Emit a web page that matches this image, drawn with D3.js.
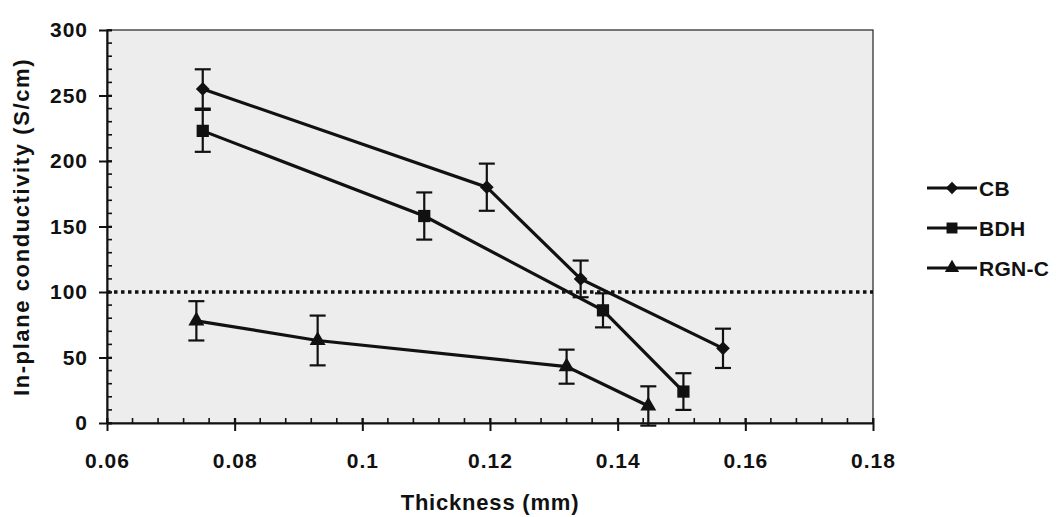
<!DOCTYPE html>
<html>
<head>
<meta charset="utf-8">
<script src="https://cdn.jsdelivr.net/npm/d3@7"></script>
<style>
  body { margin: 0; background: #fff; }
  text { font-family: "Liberation Sans", Arial, sans-serif; font-weight: bold; fill: #111; }
</style>
</head>
<body>
<div id="chart"></div>
<script>
// series: thickness (mm), conductivity (S/cm), error
var cbX = [0.075, 0.1195, 0.1342, 0.1565],
    cbY = [255, 180, 110, 57],
    cbE = [15, 18, 14, 15];
var bdhX = [0.075, 0.1097, 0.1377, 0.1503],
    bdhY = [223, 158, 86, 24],
    bdhE = [16, 18, 13, 14];
var rgnX = [0.074, 0.093, 0.132, 0.1448],
    rgnY = [78, 63, 43, 13],
    rgnE = [15, 19, 13, 15];
var seriesNames = ["CB", "BDH", "RGN-C"];
var xTicks = [0.06, 0.08, 0.1, 0.12, 0.14, 0.16, 0.18],
    xTickLabels = ["0.06", "0.08", "0.1", "0.12", "0.14", "0.16", "0.18"];
var yTicks = [0, 50, 100, 150, 200, 250, 300];
var refLine = 100;

var width = 1057, height = 517,
    margin = {top: 30, right: 184, bottom: 94, left: 107};
var w = width - margin.left - margin.right,
    h = height - margin.top - margin.bottom;

var svg = d3.select("#chart").append("svg")
  .attr("width", width).attr("height", height);

var x = d3.scaleLinear().domain([0.06, 0.18]).range([0, w]);
var y = d3.scaleLinear().domain([0, 300]).range([h, 0]);

var g = svg.append("g")
  .attr("transform", "translate(" + margin.left + "," + margin.top + ")");

// plot area
g.append("rect")
  .attr("width", w).attr("height", h)
  .style("fill", "#ededed")
  .style("stroke", "#222").style("stroke-width", 1.2);

// minor ticks (inside)
var xMinor = d3.range(0.06, 0.1801, 0.004);
g.selectAll(".xminor").data(xMinor).enter().append("line")
  .attr("x1", function(d){ return x(d); }).attr("x2", function(d){ return x(d); })
  .attr("y1", h).attr("y2", h - 5)
  .style("stroke", "#111").style("stroke-width", 1.6);
var yMinor = d3.range(0, 301, 10);
g.selectAll(".yminor").data(yMinor).enter().append("line")
  .attr("y1", function(d){ return y(d); }).attr("y2", function(d){ return y(d); })
  .attr("x1", 0).attr("x2", 5)
  .style("stroke", "#111").style("stroke-width", 1.6);

// axes
var xAxis = d3.axisBottom(x).tickValues(xTicks)
  .tickFormat(function(d, i){ return xTickLabels[i]; })
  .tickSizeInner(8).tickSizeOuter(0).tickPadding(22);
var gx = g.append("g").attr("transform", "translate(0," + h + ")").call(xAxis);
var yAxis = d3.axisLeft(y).tickValues(yTicks).tickSizeInner(8).tickSizeOuter(0).tickPadding(11);
var gy = g.append("g").call(yAxis);
[gx, gy].forEach(function(a){
  a.select(".domain").style("stroke", "#111").style("stroke-width", 2);
  a.selectAll(".tick line").style("stroke", "#111").style("stroke-width", 2);
  a.selectAll("text").style("font-size", "21px").style("letter-spacing", "1px")
    .style("font-family", "'Liberation Sans', Arial, sans-serif").style("font-weight", "bold");
});
gx.selectAll(".tick line").attr("y1", -5);
gy.selectAll(".tick line").attr("x1", 5);

// reference line
g.append("line")
  .attr("x1", 0).attr("x2", w)
  .attr("y1", y(refLine)).attr("y2", y(refLine))
  .style("stroke", "#111").style("stroke-width", 3.5)
  .style("stroke-dasharray", "3.5,3.5");

var series = [
  {name: seriesNames[0], xs: cbX, ys: cbY, es: cbE, shape: d3.symbolDiamond2, size: 120},
  {name: seriesNames[1], xs: bdhX, ys: bdhY, es: bdhE, shape: d3.symbolSquare, size: 150},
  {name: seriesNames[2], xs: rgnX, ys: rgnY, es: rgnE, shape: d3.symbolTriangle, size: 110}
];

var line = d3.line().x(function(d){ return x(d.x); }).y(function(d){ return y(d.y); });

series.forEach(function(s){
  var pts = s.xs.map(function(v, i){ return {x: v, y: s.ys[i], e: s.es[i]}; });
  var sg = g.append("g");
  // error bars
  pts.forEach(function(p){
    var cx = x(p.x);
    sg.append("line").attr("x1", cx).attr("x2", cx)
      .attr("y1", y(p.y + p.e)).attr("y2", y(p.y - p.e))
      .style("stroke", "#111").style("stroke-width", 2.2);
    [p.y + p.e, p.y - p.e].forEach(function(v){
      sg.append("line").attr("x1", cx - 8).attr("x2", cx + 8)
        .attr("y1", y(v)).attr("y2", y(v))
        .style("stroke", "#111").style("stroke-width", 2.2);
    });
  });
  sg.append("path").datum(pts).attr("d", line)
    .style("fill", "none").style("stroke", "#111").style("stroke-width", 3.2);
  sg.selectAll("path.pt").data(pts).enter().append("path")
    .attr("class", "pt")
    .attr("d", d3.symbol().type(s.shape).size(s.size))
    .attr("transform", function(d){ return "translate(" + x(d.x) + "," + y(d.y) + ")"; })
    .style("fill", "#111");
});

// axis titles
svg.append("text")
  .attr("x", 490).attr("y", 510)
  .attr("text-anchor", "middle").style("font-size", "22px").style("letter-spacing", "0.8px")
  .text("Thickness (mm)");
svg.append("text")
  .attr("transform", "translate(29,227) rotate(-90)")
  .attr("text-anchor", "middle").style("font-size", "22px").style("letter-spacing", "1.6px")
  .text("In-plane conductivity (S/cm)");

// legend
var legend = svg.append("g").attr("transform", "translate(927,188)");
series.forEach(function(s, i){
  var lg = legend.append("g").attr("transform", "translate(0," + (i * 40) + ")");
  lg.append("line").attr("x1", 0).attr("x2", 50)
    .style("stroke", "#111").style("stroke-width", 3);
  lg.append("path").attr("d", d3.symbol().type(s.shape).size(s.size * 0.8))
    .attr("transform", "translate(25,0)").style("fill", "#111");
  lg.append("text").attr("x", 52).attr("dy", "0.36em")
    .style("font-size", "21px").style("letter-spacing", "0.3px").text(s.name);
});
</script>
</body>
</html>
